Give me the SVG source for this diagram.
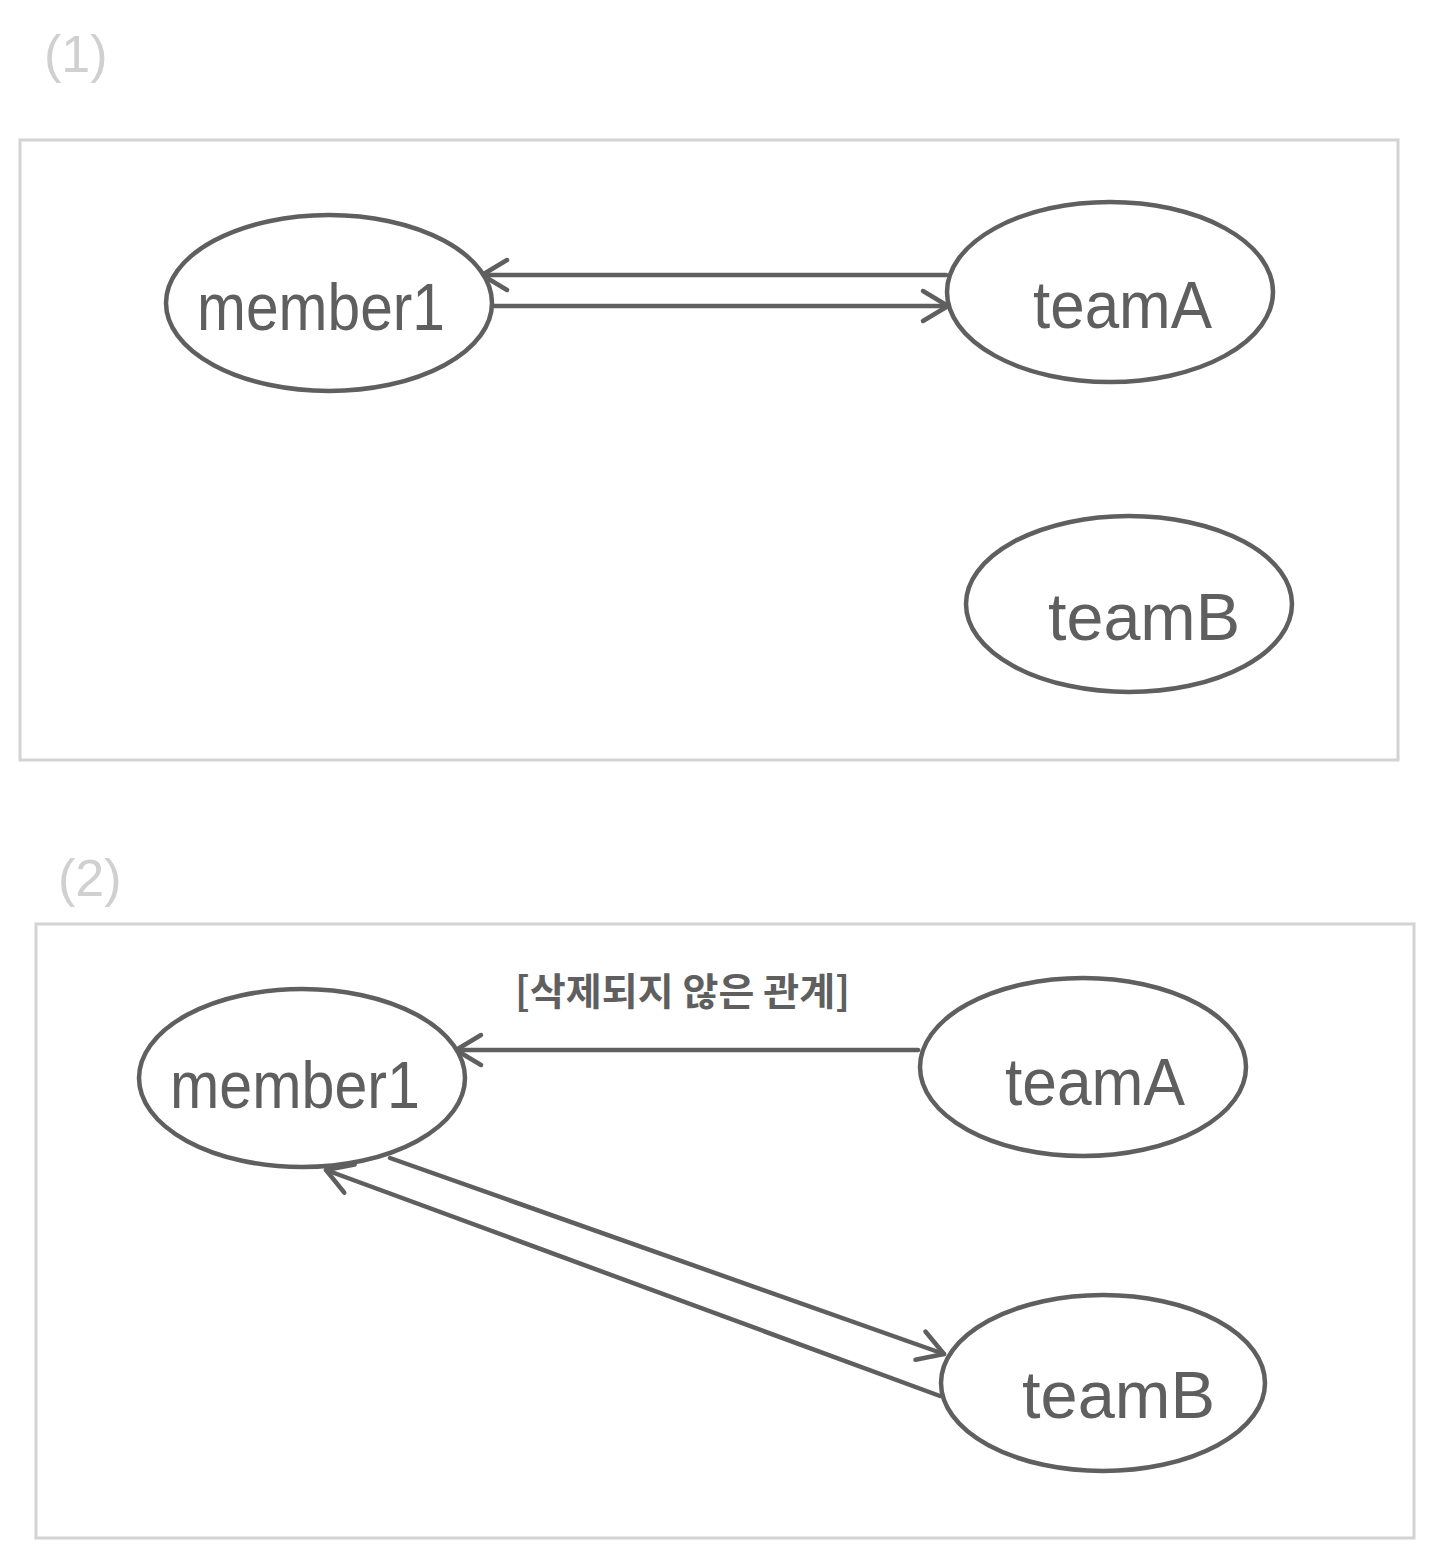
<svg xmlns="http://www.w3.org/2000/svg" width="1444" height="1556" viewBox="0 0 1444 1556">
<style>
.frame{fill:none;stroke:#d3d3d3;stroke-width:3}
.node{fill:#fff;stroke:#5f5f5f;stroke-width:4.5}
.lbl{font-family:"Liberation Sans","Noto Sans",sans-serif;font-size:66px;fill:#5f5f5f}
.sec{font-family:"Liberation Sans",sans-serif;font-size:52px;fill:#d0d0d0}
.edge{fill:none;stroke:#5f5f5f;stroke-width:4.5;stroke-linecap:round}
.note{font-family:"Noto Sans CJK KR",sans-serif;font-size:38px;fill:#5f5f5f;font-weight:bold}
</style>
<defs>
<marker id="arr" viewBox="-4 -4 38 38" refX="28" refY="15" markerWidth="38" markerHeight="38" markerUnits="userSpaceOnUse" orient="auto">
<path d="M3,0 L28,15 L3,30" fill="none" stroke="#5f5f5f" stroke-width="4.5" stroke-linecap="round" stroke-linejoin="round"/>
</marker>
</defs>
<rect fill="#fff" x="0" y="0" width="1444" height="1556"/>
<text class="sec" x="44" y="72">(1)</text>
<rect class="frame" x="20" y="140" width="1378" height="620"/>
<text class="sec" x="58" y="896">(2)</text>
<rect class="frame" x="36" y="924" width="1378" height="614"/>

<g id="connectors">
<line class="edge" x1="946" y1="275" x2="482" y2="275" marker-end="url(#arr)"/>
<line class="edge" x1="494" y1="306" x2="948" y2="306" marker-end="url(#arr)"/>
<line class="edge" x1="918" y1="1050" x2="456" y2="1050" marker-end="url(#arr)"/>
<line class="edge" x1="390" y1="1158" x2="944" y2="1354" marker-end="url(#arr)"/>
<line class="edge" x1="940" y1="1396" x2="326" y2="1170" marker-end="url(#arr)"/>
<text class="note" x="515" y="1005" textLength="335" lengthAdjust="spacingAndGlyphs">[삭제되지 않은 관계]</text>
</g>

<g id="s1-member1">
<ellipse class="node" cx="329" cy="303" rx="163" ry="88"/>
<text class="lbl" x="197" y="330" textLength="248" lengthAdjust="spacingAndGlyphs">member1</text>
</g>
<g id="s1-teamA">
<ellipse class="node" cx="1110" cy="292" rx="163" ry="90"/>
<text class="lbl" x="1033" y="328" textLength="179" lengthAdjust="spacingAndGlyphs">teamA</text>
</g>
<g id="s1-teamB">
<ellipse class="node" cx="1129" cy="604" rx="163" ry="88"/>
<text class="lbl" x="1048" y="640" textLength="192" lengthAdjust="spacingAndGlyphs">teamB</text>
</g>
<g id="s2-member1">
<ellipse class="node" cx="302" cy="1078" rx="163" ry="89"/>
<text class="lbl" x="170" y="1108" textLength="250" lengthAdjust="spacingAndGlyphs">member1</text>
</g>
<g id="s2-teamA">
<ellipse class="node" cx="1083" cy="1067" rx="163" ry="89"/>
<text class="lbl" x="1005" y="1105" textLength="180" lengthAdjust="spacingAndGlyphs">teamA</text>
</g>
<g id="s2-teamB">
<ellipse class="node" cx="1103" cy="1383" rx="162" ry="88"/>
<text class="lbl" x="1022" y="1418" textLength="193" lengthAdjust="spacingAndGlyphs">teamB</text>
</g>
</svg>
